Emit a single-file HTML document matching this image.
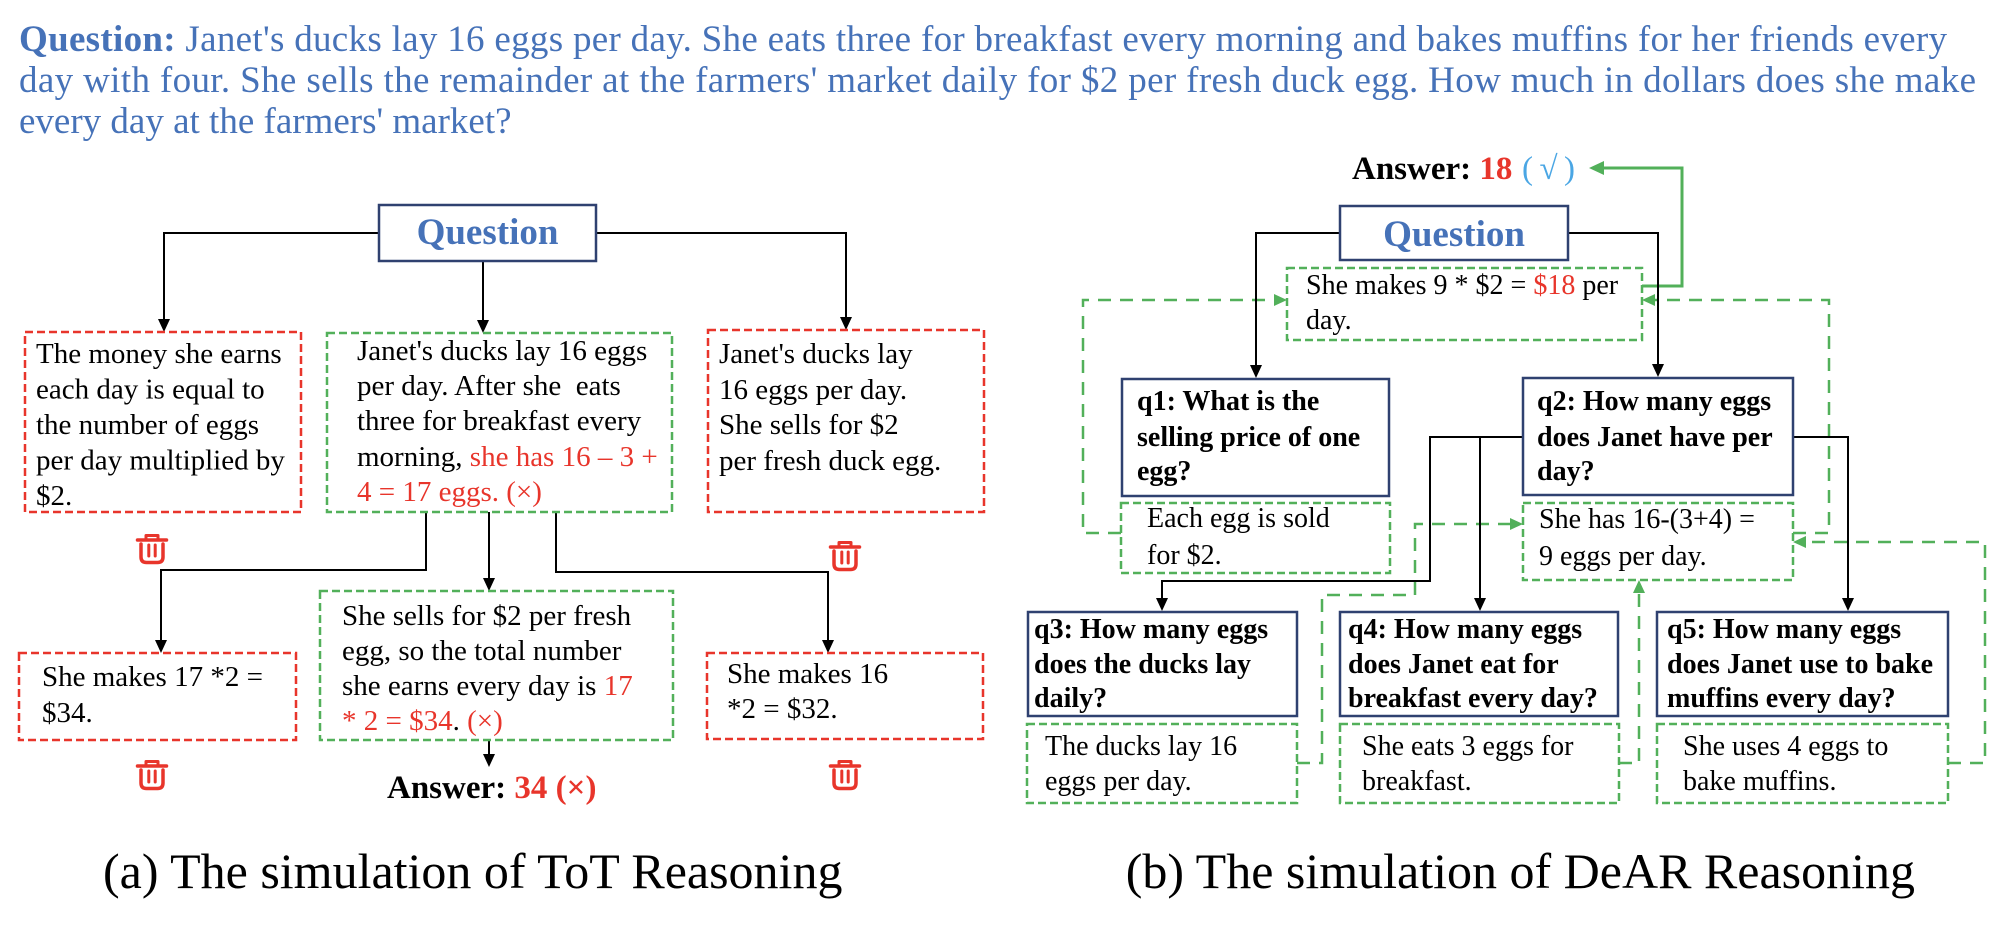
<!DOCTYPE html>
<html>
<head>
<meta charset="utf-8">
<style>
  html,body{margin:0;padding:0;background:#fff;}
  svg{display:block;}
  text{white-space:pre;}
</style>
</head>
<body>
<svg xmlns="http://www.w3.org/2000/svg" width="2002" height="926" viewBox="0 0 2002 926" font-family="'Liberation Serif', 'Times New Roman', serif">
  <defs>
    <g id="trash" fill="none" stroke="#e8352b" stroke-linecap="round" stroke-linejoin="round">
      <path d="M-6,-10 V-13.5 H6 V-10" stroke-width="3"/>
      <line x1="-14.5" y1="-9" x2="14.5" y2="-9" stroke-width="3.5"/>
      <path d="M-11,-5 V8 Q-11,13.5 -5.5,13.5 H5.5 Q11,13.5 11,8 V-5" stroke-width="3.5"/>
      <line x1="-3.2" y1="-4" x2="-3.2" y2="7" stroke-width="3"/>
      <line x1="3.2" y1="-4" x2="3.2" y2="7" stroke-width="3"/>
    </g>
  </defs>
  <rect width="2002" height="926" fill="#fff"/>

  <!-- Top question text -->
  <g font-size="37" fill="#4672b8">
    <text x="19" y="51" textLength="1928"><tspan font-weight="bold">Question:</tspan> Janet's ducks lay 16 eggs per day. She eats three for breakfast every morning and bakes muffins for her friends every</text>
    <text x="19" y="92" textLength="1957">day with four. She sells the remainder at the farmers' market daily for $2 per fresh duck egg. How much in dollars does she make</text>
    <text x="19" y="133">every day at the farmers' market?</text>
  </g>

  <!-- ================= LEFT DIAGRAM ================= -->
  <g fill="none" stroke="#000" stroke-width="2">
    <path d="M379,233 H164 V320"/>
    <path d="M596,233 H846 V318"/>
    <path d="M483,261 V321"/>
    <path d="M426,512 V570 H161 V641"/>
    <path d="M489,512 V579"/>
    <path d="M556,512 V572 H828 V641"/>
    <path d="M489,740 V755"/>
  </g>
  <g fill="#000">
    <polygon points="158,319 170,319 164,332"/>
    <polygon points="840,317 852,317 846,330"/>
    <polygon points="477,320 489,320 483,333"/>
    <polygon points="155,640 167,640 161,653"/>
    <polygon points="483,578 495,578 489,591"/>
    <polygon points="822,640 834,640 828,653"/>
    <polygon points="483,754 495,754 489,767"/>
  </g>

  <rect x="379" y="205" width="217" height="56" fill="#fff" stroke="#2f4170" stroke-width="2.5"/>
  <text x="487.5" y="244" font-size="37" font-weight="bold" fill="#4672b8" text-anchor="middle">Question</text>

  <g fill="none" stroke-width="2.5" stroke-dasharray="8 4">
    <rect x="25" y="332" width="276" height="180" stroke="#e8352b"/>
    <rect x="327" y="333" width="345" height="179" stroke="#52b05a"/>
    <rect x="708" y="330" width="276" height="182" stroke="#e8352b"/>
    <rect x="19" y="653" width="277" height="87" stroke="#e8352b"/>
    <rect x="320" y="591" width="353" height="149" stroke="#52b05a"/>
    <rect x="707" y="653" width="276" height="86" stroke="#e8352b"/>
  </g>

  <g font-size="29" fill="#000">
    <text x="36" y="363">The money she earns</text>
    <text x="36" y="398.5">each day is equal to</text>
    <text x="36" y="434">the number of eggs</text>
    <text x="36" y="469.5">per day multiplied by</text>
    <text x="36" y="505">$2.</text>

    <text x="357" y="360">Janet's ducks lay 16 eggs</text>
    <text x="357" y="395">per day. After she  eats</text>
    <text x="357" y="430">three for breakfast every</text>
    <text x="357" y="466">morning, <tspan fill="#e8352b">she has 16 – 3 +</tspan></text>
    <text x="357" y="501" fill="#e8352b">4 = 17 eggs. (×)</text>

    <text x="719" y="363">Janet's ducks lay</text>
    <text x="719" y="399">16 eggs per day.</text>
    <text x="719" y="434">She sells for $2</text>
    <text x="719" y="470">per fresh duck egg.</text>

    <text x="42" y="686">She makes 17 *2 =</text>
    <text x="42" y="722">$34.</text>

    <text x="342" y="625">She sells for $2 per fresh</text>
    <text x="342" y="660">egg, so the total number</text>
    <text x="342" y="695">she earns every day is <tspan fill="#e8352b">17</tspan></text>
    <text x="342" y="730"><tspan fill="#e8352b">* 2 = $34</tspan>.<tspan fill="#e8352b"> (×)</tspan></text>

    <text x="727" y="683">She makes 16</text>
    <text x="727" y="718">*2 = $32.</text>
  </g>

  <text x="387" y="798" font-size="33" font-weight="bold" fill="#000">Answer: <tspan fill="#e8352b">34 (×)</tspan></text>

  <use href="#trash" transform="translate(152,549)"/>
  <use href="#trash" transform="translate(845,556)"/>
  <use href="#trash" transform="translate(152,775)"/>
  <use href="#trash" transform="translate(845,775)"/>

  <!-- ================= RIGHT DIAGRAM ================= -->
  <g fill="none" stroke="#52b05a" stroke-width="2.5" stroke-dasharray="13 9">
    <path d="M1121,533 H1083 V300 H1274"/>
    <path d="M1793,533 H1829 V300 H1655"/>
    <path d="M1297,763 H1322 V595 H1415 V524 H1510"/>
    <path d="M1619,763 H1639 V593"/>
    <path d="M1948,763 H1985 V542 H1806"/>
  </g>
  <g fill="#52b05a">
    <polygon points="1287,300 1274,294 1274,306"/>
    <polygon points="1642,300 1655,294 1655,306"/>
    <polygon points="1523,524 1510,518 1510,530"/>
    <polygon points="1639,580 1633,593 1645,593"/>
    <polygon points="1793,542 1806,536 1806,548"/>
  </g>
  <path d="M1642,286 H1682 V168 H1602" fill="none" stroke="#52b05a" stroke-width="3"/>
  <polygon points="1589,168 1604,161 1604,175" fill="#52b05a"/>

  <g fill="none" stroke="#000" stroke-width="2">
    <path d="M1340,233 H1256 V366"/>
    <path d="M1568,233 H1658 V365"/>
    <path d="M1523,437 H1430 V581 H1162 V599"/>
    <path d="M1480,437 V599"/>
    <path d="M1793,437 H1848 V599"/>
  </g>
  <g fill="#000">
    <polygon points="1250,365 1262,365 1256,378"/>
    <polygon points="1652,364 1664,364 1658,377"/>
    <polygon points="1156,598 1168,598 1162,611"/>
    <polygon points="1474,598 1486,598 1480,611"/>
    <polygon points="1842,598 1854,598 1848,611"/>
  </g>

  <rect x="1340" y="206" width="228" height="54" fill="#fff" stroke="#2f4170" stroke-width="2.5"/>
  <text x="1454" y="246" font-size="37" font-weight="bold" fill="#4672b8" text-anchor="middle">Question</text>

  <g fill="#fff" stroke="#2f4170" stroke-width="2.5">
    <rect x="1122" y="379" width="267" height="117"/>
    <rect x="1523" y="378" width="270" height="117"/>
    <rect x="1028" y="612" width="269" height="104"/>
    <rect x="1340" y="612" width="278" height="104"/>
    <rect x="1657" y="612" width="291" height="104"/>
  </g>
  <g fill="none" stroke="#52b05a" stroke-width="2.5" stroke-dasharray="8 4">
    <rect x="1287" y="268" width="355" height="72"/>
    <rect x="1121" y="503" width="269" height="70"/>
    <rect x="1523" y="503" width="270" height="77"/>
    <rect x="1027" y="724" width="270" height="79"/>
    <rect x="1340" y="724" width="279" height="79"/>
    <rect x="1657" y="724" width="291" height="79"/>
  </g>

  <g font-size="28" font-weight="bold" fill="#000">
    <text x="1137" y="410">q1: What is the</text>
    <text x="1137" y="446">selling price of one</text>
    <text x="1137" y="480">egg?</text>

    <text x="1537" y="410">q2: How many eggs</text>
    <text x="1537" y="446">does Janet have per</text>
    <text x="1537" y="480">day?</text>

    <text x="1034" y="638">q3: How many eggs</text>
    <text x="1034" y="673">does the ducks lay</text>
    <text x="1034" y="707">daily?</text>

    <text x="1348" y="638">q4: How many eggs</text>
    <text x="1348" y="673">does Janet eat for</text>
    <text x="1348" y="707">breakfast every day?</text>

    <text x="1667" y="638">q5: How many eggs</text>
    <text x="1667" y="673">does Janet use to bake</text>
    <text x="1667" y="707">muffins every day?</text>
  </g>

  <g font-size="28" fill="#000">
    <text x="1306" y="294">She makes 9 * $2 = <tspan fill="#e8352b">$18</tspan> per</text>
    <text x="1306" y="329">day.</text>

    <text x="1147" y="527">Each egg is sold</text>
    <text x="1147" y="564">for $2.</text>

    <text x="1539" y="528">She has 16-(3+4) =</text>
    <text x="1539" y="565">9 eggs per day.</text>

    <text x="1045" y="755">The ducks lay 16</text>
    <text x="1045" y="790">eggs per day.</text>

    <text x="1362" y="755">She eats 3 eggs for</text>
    <text x="1362" y="790">breakfast.</text>

    <text x="1683" y="755">She uses 4 eggs to</text>
    <text x="1683" y="790">bake muffins.</text>
  </g>

  <text x="1352" y="179" font-size="33" font-weight="bold" fill="#000">Answer: <tspan fill="#e8352b">18</tspan></text>
  <text x="1522" y="179" font-size="33" fill="#4aa6e4" textLength="53">( √ )</text>

  <text x="103" y="888" font-size="50" fill="#000">(a) The simulation of ToT Reasoning</text>
  <text x="1915" y="888" font-size="50" fill="#000" text-anchor="end">(b) The simulation of DeAR Reasoning</text>
</svg>
</body>
</html>
